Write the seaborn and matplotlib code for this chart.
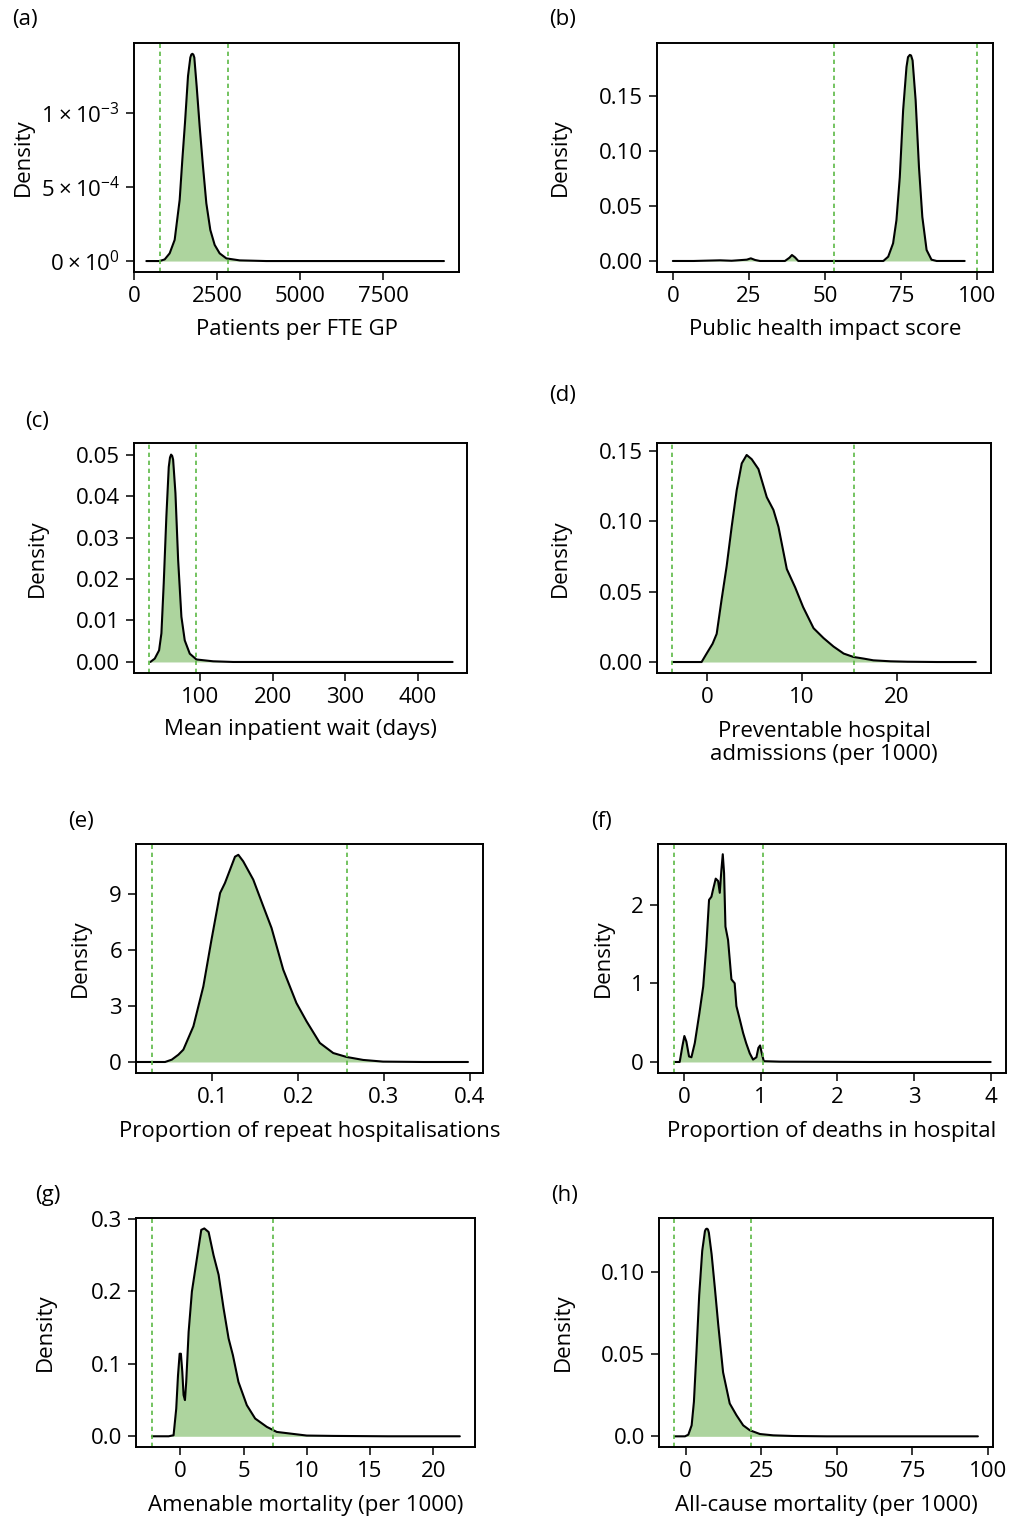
import matplotlib
matplotlib.use("Agg")
import matplotlib.pyplot as plt
import seaborn as sns

# Curvas de densidad (x, densidad)
a_x = [372, 773, 924, 1074, 1225, 1376, 1456, 1536, 1627, 1697, 1727, 1757, 1787, 1817, 1888, 1978, 2078, 2179, 2299, 2430, 2580, 2781, 3183, 3986, 9337]
a_y = [0, 0, 1.1e-5, 5.2e-5, 1.43e-4, 4.14e-4, 6.85e-4, 9.34e-4, 1.25e-3, 1.375e-3, 1.395e-3, 1.40e-3, 1.395e-3, 1.375e-3, 1.18e-3, 9.1e-4, 6.4e-4, 3.9e-4, 2.1e-4, 1.09e-4, 5.2e-5, 1.8e-5, 4.5e-6, 0, 0]

b_x = [0, 6.8, 15.5, 19.3, 24.3, 25.6, 27.0, 28.6, 36.8, 38.3, 39.1, 40.1, 41.2, 69.1, 70.7, 72.3, 73.4, 74.5, 75.6, 76.7, 77.2, 77.8, 78.2, 78.7, 79.7, 80.8, 81.9, 83.3, 84.9, 86.6, 95.8]
b_y = [0, 0, 0.0006, 0.0002, 0.0012, 0.0024, 0.0009, 0, 0, 0.003, 0.0054, 0.0033, 0, 0, 0.0039, 0.016, 0.037, 0.076, 0.137, 0.176, 0.185, 0.187, 0.1865, 0.182, 0.146, 0.085, 0.040, 0.010, 0.0012, 0, 0]

c_x = [32, 38, 44, 47.2, 50.4, 54, 57.3, 59, 60.5, 62, 63.3, 66.5, 70.2, 74.7, 79.3, 86.2, 95.4, 118.4, 146, 447.7]
c_y = [0, 0.0008, 0.0028, 0.0069, 0.019, 0.035, 0.047, 0.0493, 0.050, 0.0497, 0.0488, 0.0407, 0.0246, 0.0109, 0.0052, 0.002, 0.0006, 0.00016, 0, 0]

d_x = [-3.6, -0.6, -0.07, 0.56, 0.99, 1.5, 2.04, 2.57, 3.1, 3.63, 4.15, 4.68, 5.39, 6.27, 6.97, 7.5, 8.38, 9.26, 10.1, 11.2, 12.25, 13.3, 14.37, 15.4, 16.5, 17.5, 19.3, 21.1, 24.2, 28.3]
d_y = [0, 0, 0.006, 0.013, 0.020, 0.044, 0.068, 0.096, 0.122, 0.141, 0.147, 0.144, 0.137, 0.117, 0.108, 0.096, 0.066, 0.053, 0.039, 0.024, 0.017, 0.011, 0.006, 0.0036, 0.0024, 0.0012, 0.0005, 0.0002, 0, 0]

e_x = [0.010, 0.0274, 0.0449, 0.0527, 0.0604, 0.0662, 0.0779, 0.0895, 0.099, 0.109, 0.1147, 0.1206, 0.1264, 0.1303, 0.136, 0.1477, 0.1594, 0.169, 0.1826, 0.198, 0.2098, 0.2253, 0.2409, 0.2564, 0.2758, 0.299, 0.3456, 0.398]
e_y = [0, 0, 0, 0.125, 0.39, 0.66, 1.91, 4.05, 6.55, 9.05, 9.59, 10.3, 11.0, 11.1, 10.75, 9.77, 8.34, 7.18, 4.95, 3.16, 2.18, 1.02, 0.48, 0.27, 0.11, 0.02, 0, 0]

f_x = [-0.12, -0.057, -0.022, 0.004, 0.03, 0.065, 0.096, 0.14, 0.20, 0.25, 0.29, 0.326, 0.357, 0.378, 0.413, 0.444, 0.466, 0.487, 0.505, 0.522, 0.54, 0.574, 0.618, 0.66, 0.683, 0.727, 0.77, 0.81, 0.857, 0.90, 0.944, 0.97, 0.992, 1.014, 1.04, 1.25, 2.42, 4.0]
f_y = [0, 0, 0.2, 0.33, 0.26, 0.07, 0.06, 0.24, 0.62, 0.96, 1.47, 2.06, 2.10, 2.19, 2.33, 2.30, 2.15, 2.44, 2.64, 2.40, 1.72, 1.55, 1.05, 1.0, 0.71, 0.54, 0.37, 0.24, 0.11, 0.03, 0.06, 0.18, 0.21, 0.11, 0.01, 0.004, 0, 0]

g_x = [-2.24, -0.92, -0.53, -0.32, -0.18, -0.05, 0.05, 0.16, 0.26, 0.37, 0.47, 0.66, 0.92, 1.32, 1.66, 1.9, 2.24, 2.63, 3.03, 3.42, 3.82, 4.16, 4.6, 5.26, 5.92, 6.84, 7.63, 8.95, 10.0, 12.1, 16.4, 22.1]
g_y = [0, 0, 0.0014, 0.038, 0.084, 0.114, 0.114, 0.089, 0.057, 0.050, 0.075, 0.144, 0.200, 0.246, 0.285, 0.287, 0.282, 0.250, 0.223, 0.177, 0.135, 0.112, 0.075, 0.043, 0.0245, 0.013, 0.006, 0.0032, 0.001, 0.0005, 0, 0]

h_x = [-3.5, -0.2, 0.9, 2.0, 2.75, 3.6, 4.5, 5.5, 6.4, 6.7, 7.05, 7.4, 7.7, 8.6, 9.7, 10.8, 12.4, 14.6, 16.85, 19.05, 21.25, 24.6, 29, 35.6, 46.6, 96.7]
h_y = [0, 0, 0.001, 0.0067, 0.021, 0.0515, 0.086, 0.113, 0.125, 0.1262, 0.1265, 0.126, 0.124, 0.111, 0.090, 0.068, 0.039, 0.020, 0.0128, 0.0067, 0.0037, 0.0014, 0.0006, 0.0002, 0, 0]

# Líneas verticales discontinuas (límites)
a_lim = [773, 2821]
b_lim = [52.9, 99.7]
c_lim = [30.6, 95.4]
d_lim = [-3.7, 15.5]
e_lim = [0.0295, 0.257]
f_lim = [-0.134, 1.026]
g_lim = [-2.24, 7.37]
h_lim = [-3.87, 21.5]

# Etiquetas
letras = ["(a)", "(b)", "(c)", "(d)", "(e)", "(f)", "(g)", "(h)"]
xlabels = ["Patients per FTE GP", "Public health impact score", "Mean inpatient wait (days)",
           "Preventable hospital\nadmissions (per 1000)", "Proportion of repeat hospitalisations",
           "Proportion of deaths in hospital", "Amenable mortality (per 1000)", "All-cause mortality (per 1000)"]

a_xt = [0, 2500, 5000, 7500]
b_xt = [0, 25, 50, 75, 100]
c_xt = [100, 200, 300, 400]
d_xt = [0, 10, 20]
e_xt = [0.1, 0.2, 0.3, 0.4]
f_xt = [0, 1, 2, 3, 4]
g_xt = [0, 5, 10, 15, 20]
h_xt = [0, 25, 50, 75, 100]

a_yt = [0, 5e-4, 1e-3]
a_ytl = [r"$\mathregular{0\times10^{0}}$", r"$\mathregular{5\times10^{-4}}$", r"$\mathregular{1\times10^{-3}}$"]
b_yt = [0, 0.05, 0.10, 0.15]
b_ytl = ["0.00", "0.05", "0.10", "0.15"]
c_yt = [0, 0.01, 0.02, 0.03, 0.04, 0.05]
c_ytl = ["0.00", "0.01", "0.02", "0.03", "0.04", "0.05"]
d_yt = [0, 0.05, 0.10, 0.15]
d_ytl = ["0.00", "0.05", "0.10", "0.15"]
e_yt = [0, 3, 6, 9]
e_ytl = ["0", "3", "6", "9"]
f_yt = [0, 1, 2]
f_ytl = ["0", "1", "2"]
g_yt = [0, 0.1, 0.2, 0.3]
g_ytl = ["0.0", "0.1", "0.2", "0.3"]
h_yt = [0, 0.05, 0.10]
h_ytl = ["0.0", "0.05", "0.10"]

# Límites de ejes
xlims = [(0, 9790), (-5.2, 105.1), (9.5, 467.5), (-5.3, 29.9), (0.011, 0.4155), (-0.34, 4.2), (-3.5, 23.3), (-8.8, 101.7)]
ylims = [(-7.4e-5, 1.473e-3), (-0.01, 0.1978), (-0.00266, 0.0528), (-0.0078, 0.1555), (-0.59, 11.68), (-0.14, 2.77), (-0.0148, 0.3014), (-0.0065, 0.133)]

# Posición en píxeles: izquierda, arriba, derecha, abajo
cajas = [(134, 43, 459, 272), (657, 43, 993, 272), (134, 443, 467, 673), (657, 443, 991, 673),
         (136, 844, 483, 1073), (658, 844, 1006, 1073), (136, 1218, 475, 1447), (659, 1218, 993, 1447)]
pos_letra = [(12, 20), (549, 20), (25, 421), (549, 395), (68, 822), (591, 822), (35, 1196), (551, 1196)]
pos_ylabel = [23, 560, 37, 560, 80, 603, 45, 563]
pos_xlabel = [330, 330, 730, 743, 1132, 1132, 1505, 1505]

curvas = [(a_x, a_y), (b_x, b_y), (c_x, c_y), (d_x, d_y), (e_x, e_y), (f_x, f_y), (g_x, g_y), (h_x, h_y)]
limites = [a_lim, b_lim, c_lim, d_lim, e_lim, f_lim, g_lim, h_lim]
xticks = [a_xt, b_xt, c_xt, d_xt, e_xt, f_xt, g_xt, h_xt]
yticks = [(a_yt, a_ytl), (b_yt, b_ytl), (c_yt, c_ytl), (d_yt, d_ytl), (e_yt, e_ytl), (f_yt, f_ytl), (g_yt, g_ytl), (h_yt, h_ytl)]

sns.set_style("ticks")
plt.rcParams["font.family"] = ["Open Sans", "DejaVu Sans"]
plt.rcParams["mathtext.fontset"] = "custom"
plt.rcParams["mathtext.rm"] = "Open Sans"
plt.rcParams["axes.unicode_minus"] = True
plt.rcParams["text.color"] = "black"
plt.rcParams["axes.labelcolor"] = "black"
plt.rcParams["xtick.color"] = "black"
plt.rcParams["ytick.color"] = "black"

W, H = 1009, 1517
fig = plt.figure(figsize=(W / 100, H / 100), dpi=100)

verde_relleno = "#add49e"
verde_linea = "#5cb946"
fs = 16

for i in range(8):
    l, t, r, b = cajas[i]
    ax = fig.add_axes([l / W, 1 - b / H, (r - l) / W, (b - t) / H])
    x, y = curvas[i]
    ax.fill_between(x, y, 0, color=verde_relleno, lw=0)
    sns.lineplot(x=x, y=y, ax=ax, color="black", lw=1.5, sort=False, estimator=None)
    for v in limites[i]:
        ax.axvline(v, color=verde_linea, lw=1.2, ls=(0, (2.6, 2.2)))
    ax.set_xlim(xlims[i])
    ax.set_ylim(ylims[i])
    ax.set_xticks(xticks[i])
    ax.set_xticklabels([f"{v:g}" for v in xticks[i]])
    ax.set_yticks(yticks[i][0])
    ax.set_yticklabels(yticks[i][1])
    ax.tick_params(direction="out", length=6, width=1.1, labelsize=fs, pad=4, color="black", labelcolor="black")
    for s in ax.spines.values():
        s.set_linewidth(1.4)
        s.set_color("black")
    ax.set_xlabel(xlabels[i], fontsize=fs, va="center", ha="center", linespacing=1.15)
    ax.set_ylabel("Density", fontsize=fs, va="center", ha="center")
    ax.xaxis.set_label_coords(0.5, (b - pos_xlabel[i]) / (b - t))
    ax.yaxis.set_label_coords((pos_ylabel[i] - l) / (r - l), 0.5)
    fig.text(pos_letra[i][0] / W, 1 - pos_letra[i][1] / H, letras[i], fontsize=fs, ha="left", va="center")

plt.savefig("out.png", dpi=100)
